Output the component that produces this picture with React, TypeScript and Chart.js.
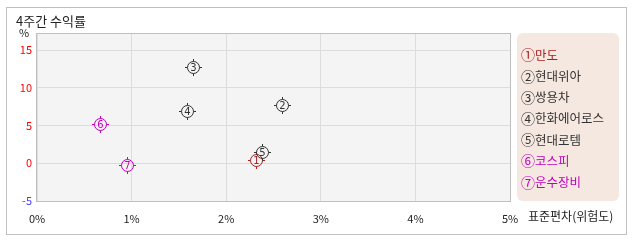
import React, { useEffect, useRef } from "react";
import { Chart, registerables } from "chart.js";

Chart.register(...registerables);

const chartTitle = "4주간 수익률";
const xAxisTitle = "표준편차(위험도)";
const yUnit = "%";
const names = ["만도", "현대위아", "쌍용차", "한화에어로스", "현대로템", "코스피", "운수장비"];
const circled = ["①", "②", "③", "④", "⑤", "⑥", "⑦"];
const riskX = [2.31, 2.59, 1.65, 1.59, 2.38, 0.67, 0.95];
const returnY = [0.4, 7.77, 12.77, 6.97, 1.51, 5.23, -0.27];
const colors = ["#a82020", "#333333", "#333333", "#333333", "#333333", "#c000c0", "#c000c0"];
const xTicks = [0, 1, 2, 3, 4, 5];
const yTicks = [-5, 0, 5, 10, 15];

const FONT = '"Noto Sans CJK KR", "DejaVu Sans", sans-serif';

function drawMarker(g: CanvasRenderingContext2D, cx: number, cy: number, num: number, color: string) {
  const x = Math.round(cx) + 0.5;
  const y = Math.round(cy) + 0.5;
  g.save();
  g.strokeStyle = color;
  g.fillStyle = color;
  g.lineWidth = 1;
  g.beginPath();
  g.arc(x, y, 6, 0, Math.PI * 2);
  g.stroke();
  g.beginPath();
  g.moveTo(x, y - 8.5); g.lineTo(x, y - 6);
  g.moveTo(x, y + 6); g.lineTo(x, y + 8.5);
  g.moveTo(x - 8.5, y); g.lineTo(x - 6, y);
  g.moveTo(x + 6, y); g.lineTo(x + 8.5, y);
  g.stroke();
  g.font = '10px "DejaVu Sans", sans-serif';
  g.textAlign = "center";
  g.textBaseline = "middle";
  g.fillText(String(num), x, y + 0.5);
  g.restore();
}

export default function App() {
  const ref = useRef<HTMLCanvasElement>(null);
  useEffect(() => {
    if (!ref.current) return;
    const deco = {
      id: "deco",
      beforeDraw(chart: any) {
        const ctx = chart.ctx;
        const a = chart.chartArea;
        ctx.save();
        ctx.fillStyle = "#ffffff";
        ctx.fillRect(0, 0, chart.width, chart.height);
        ctx.strokeStyle = "#c0c0c0";
        ctx.lineWidth = 1;
        ctx.strokeRect(6.5, 7.5, 620, 227);
        ctx.fillStyle = "#f4f4f4";
        ctx.fillRect(a.left, a.top, a.right - a.left, a.bottom - a.top);
        ctx.restore();
      },
      afterDatasetsDraw(chart: any) {
        const meta = chart.getDatasetMeta(0);
        meta.data.forEach((el: any, i: number) => {
          drawMarker(chart.ctx, el.x, el.y, i + 1, colors[i]);
        });
      },
      afterDraw(chart: any) {
        const ctx = chart.ctx;
        const a = chart.chartArea;
        ctx.save();
        ctx.strokeStyle = "#c0c0c0";
        ctx.lineWidth = 1;
        ctx.strokeRect(Math.round(a.left) - 0.5, Math.round(a.top) - 0.5, Math.round(a.right - a.left) + 1, Math.round(a.bottom - a.top) + 1);
        ctx.fillStyle = "#222";
        ctx.font = "13px " + FONT;
        ctx.textBaseline = "middle";
        ctx.textAlign = "left";
        ctx.fillText(chartTitle, 16, 21);
        ctx.font = "12px " + FONT;
        ctx.fillText(xAxisTitle, 528, 216);
        ctx.font = "11px " + FONT;
        ctx.textAlign = "center";
        ctx.fillText(yUnit, 24, 33);
        // legend box
        const bx = 517, by = 33, bw = 102, bh = 168, r = 6;
        ctx.fillStyle = "#f5e8e0";
        ctx.beginPath();
        ctx.moveTo(bx + r, by);
        ctx.arcTo(bx + bw, by, bx + bw, by + bh, r);
        ctx.arcTo(bx + bw, by + bh, bx, by + bh, r);
        ctx.arcTo(bx, by + bh, bx, by, r);
        ctx.arcTo(bx, by, bx + bw, by, r);
        ctx.closePath();
        ctx.fill();
        ctx.textAlign = "left";
        names.forEach((n, i) => {
          const y = 55 + i * 21.2;
          ctx.fillStyle = colors[i];
          ctx.font = "14px " + FONT;
          ctx.fillText(circled[i], 521, y);
          ctx.font = "12.5px " + FONT;
          ctx.fillText(n, 535, y);
        });
        ctx.restore();
      },
    };
    const chart = new Chart(ref.current, {
      type: "scatter",
      data: {
        datasets: [
          {
            data: riskX.map((x, i) => ({ x, y: returnY[i] })),
            pointRadius: 0,
            pointHoverRadius: 0,
          },
        ],
      },
      options: {
        animation: false,
        responsive: false,
        events: [],
        layout: { padding: { left: 0, top: 34, right: 128, bottom: 0 } },
        plugins: { legend: { display: false }, tooltip: { enabled: false }, title: { display: false } },
        scales: {
          x: {
            type: "linear",
            min: 0,
            max: 5,
            afterBuildTicks: (s: any) => { s.ticks = xTicks.map((v) => ({ value: v })); },
            afterFit: (s: any) => { s.height = 41; },
            grid: { color: "#dcdcdc", drawTicks: false },
            border: { display: false },
            ticks: {
              padding: 11,
              color: "#222",
              font: { family: FONT, size: 11 },
              callback: (v: any) => v + "%",
            },
          },
          y: {
            type: "linear",
            min: -5,
            max: 17.15,
            afterBuildTicks: (s: any) => { s.ticks = yTicks.map((v) => ({ value: v })); },
            afterFit: (s: any) => { s.width = 37; },
            grid: { color: "#dcdcdc", drawTicks: false },
            border: { display: false },
            ticks: {
              padding: 5,
              color: (c: any) => (c.tick && c.tick.value < 0 ? "#4040ff" : "#ff0000"),
              font: { family: FONT, size: 11 },
            },
          },
        },
      },
      plugins: [deco],
    });
    return () => chart.destroy();
  }, []);
  return (
    <div style={{ position: "absolute", left: 0, top: 0, width: 638, height: 242 }}>
      <canvas ref={ref} width={638} height={242} style={{ width: 638, height: 242 }} />
    </div>
  );
}
